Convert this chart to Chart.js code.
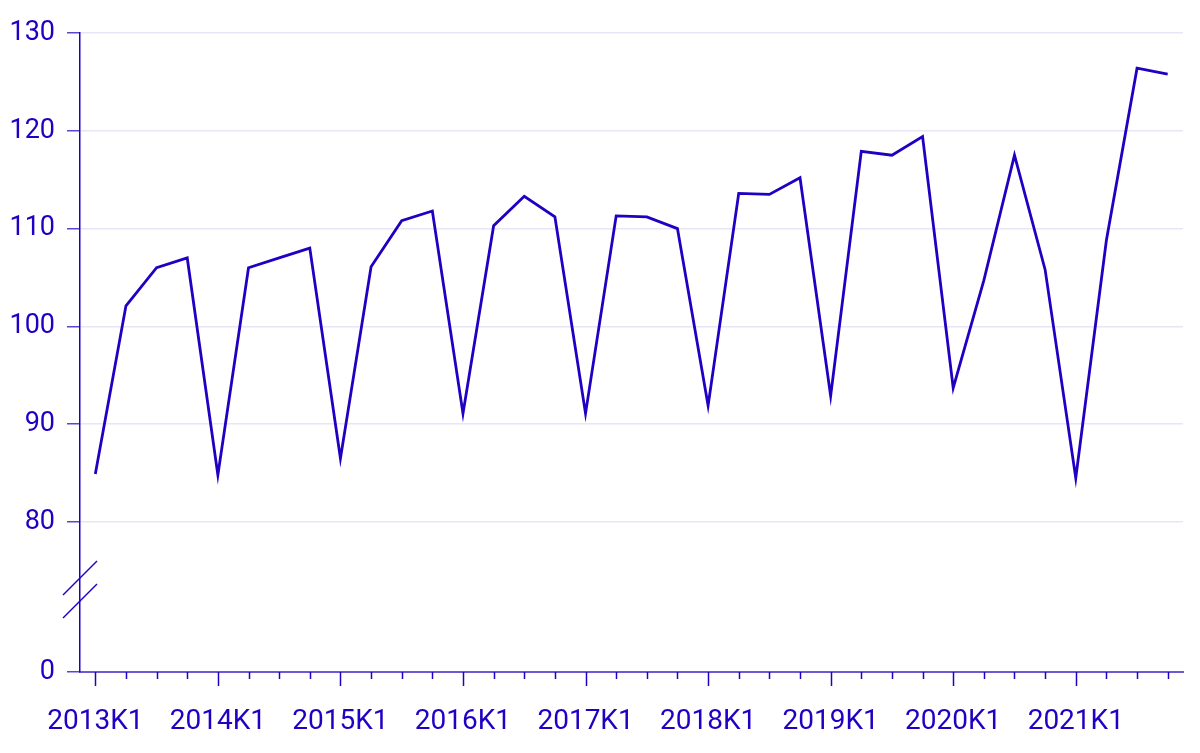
<!DOCTYPE html>
<html lang="sv">
<head>
  <meta charset="UTF-8">
  <title>Kvartalsindex 2013K1–2021K4</title>
  <script src="https://cdn.jsdelivr.net/npm/chart.js"></script>
  <style>
    body {
      margin: 0;
      background: white;
    }
    .chart-wrap {
      width: 1200px;
      height: 753px;
    }
  </style>
</head>
<body>
  <div class="chart-wrap">
    <canvas id="lineChart" width="1200" height="753"></canvas>
  </div>

  <script>
    // quarters 2013K1 .. 2021K4
    const years = ['2013', '2014', '2015', '2016', '2017', '2018', '2019', '2020', '2021'];
    const quarters = ['K1', 'K2', 'K3', 'K4'];
    const labels = [];
    years.forEach(y => quarters.forEach(q => labels.push(y + q)));

    const values = [
      84.9, 102.1, 106.0, 107.0,
      84.8, 106.0, 107.0, 108.0,
      86.5, 106.1, 110.8, 111.8,
      91.1, 110.3, 113.3, 111.2,
      91.1, 111.3, 111.2, 110.0,
      91.9, 113.6, 113.5, 115.2,
      92.9, 117.9, 117.5, 119.4,
      93.7, 104.7, 117.5, 105.8,
      84.5, 108.8, 126.4, 125.8
    ];

    // y axis is broken: bottom of the axis is labelled 0, the rest runs 80..130
    const yTicks = [80, 90, 100, 110, 120, 130];
    const yBottom = 64.66;
    const yTop = 130;

    const ink = '#2000c2';
    const gridColor = '#e8e6f6';

    // axis break marks + x tick marks (long on K1, short otherwise)
    const axisExtras = {
      id: 'axisExtras',
      afterDraw(chart) {
        const ctx = chart.ctx;
        const x = chart.scales.x;
        const y = chart.scales.y;
        const left = chart.chartArea.left;
        const bottom = chart.chartArea.bottom;

        ctx.save();
        ctx.strokeStyle = ink;
        ctx.lineWidth = 1.5;
        labels.forEach((l, i) => {
          const px = Math.round(x.getPixelForValue(i)) + 0.5;
          const len = i % 4 === 0 ? 14 : 7;
          ctx.beginPath();
          ctx.moveTo(px, bottom);
          ctx.lineTo(px, bottom + len);
          ctx.stroke();
        });

        const y80 = y.getPixelForValue(80);
        [56, 79].forEach(off => {
          const cy = y80 + off;
          ctx.beginPath();
          ctx.moveTo(left - 17, cy + 17);
          ctx.lineTo(left + 17, cy - 17);
          ctx.stroke();
        });
        ctx.restore();
      }
    };

    new Chart(document.getElementById('lineChart'), {
      type: 'line',
      data: {
        labels: labels,
        datasets: [{
          data: values,
          borderColor: ink,
          borderWidth: 2.8,
          pointRadius: 0,
          tension: 0,
          fill: false
        }]
      },
      options: {
        responsive: false,
        animation: false,
        layout: {
          padding: { top: 33, right: 17, left: 0, bottom: 0 }
        },
        plugins: {
          legend: { display: false },
          tooltip: { enabled: false }
        },
        scales: {
          x: {
            type: 'category',
            offset: true,
            grid: { display: false },
            border: { display: true, color: '#6a5ad6', width: 2 },
            afterFit(scale) { scale.height = 81; },
            ticks: {
              autoSkip: false,
              maxRotation: 0,
              padding: 25,
              color: ink,
              font: { family: 'Roboto', size: 28 },
              callback(v, i) { return i % 4 === 0 ? labels[i] : ''; }
            }
          },
          y: {
            min: yBottom,
            max: yTop,
            afterFit(scale) { scale.width = 80; },
            afterBuildTicks(scale) {
              scale.ticks = [{ value: yBottom }].concat(yTicks.map(v => ({ value: v })));
            },
            border: { display: true, color: ink, width: 1.5 },
            grid: {
              color(c) { return c.tick && c.tick.value === yBottom ? 'rgba(0,0,0,0)' : gridColor; },
              tickColor: '#5a46d0',
              tickLength: 13,
              lineWidth: 1.5
            },
            ticks: {
              padding: 12,
              color: ink,
              font: { family: 'Roboto', size: 27 },
              callback(v) { return v === yBottom ? '0' : v; }
            }
          }
        }
      },
      plugins: [axisExtras]
    });
  </script>
</body>
</html>
